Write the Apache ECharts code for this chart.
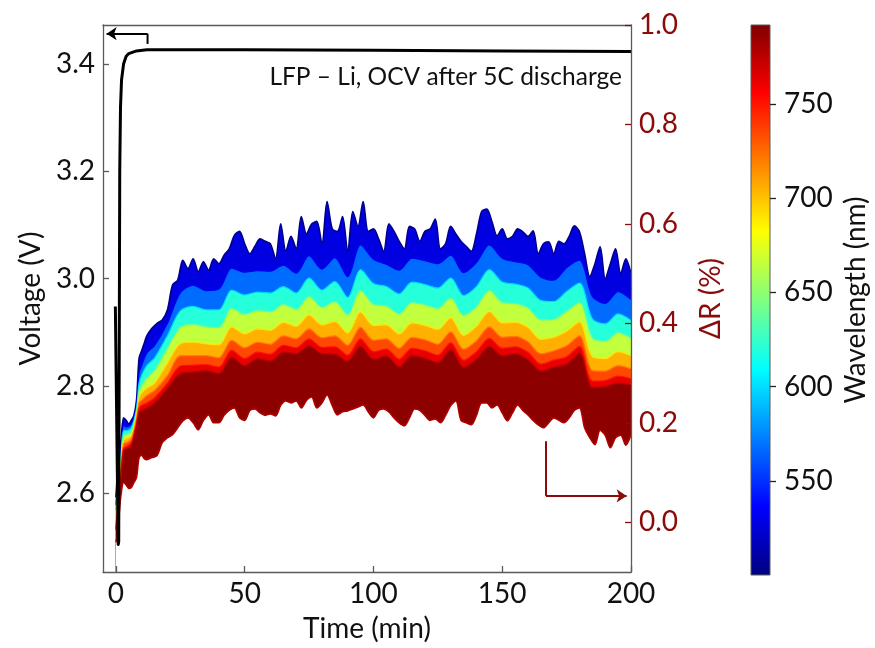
<!DOCTYPE html>
<html><head><meta charset="utf-8">
<script src="https://cdn.jsdelivr.net/npm/echarts@6/dist/echarts.min.js"></script>
<style>html,body{margin:0;padding:0;background:#fff}#c{width:875px;height:648px}</style>
</head><body><div id="c"></div>
<script>
// ---------------- DATA ----------------
const xTicks = [0, 50, 100, 150, 200];
const voltTicks = [2.6, 2.8, 3.0, 3.2, 3.4];
const dRTicks = [0, 0.2, 0.4, 0.6, 0.8, 1.0];
const wlTicks = [550, 600, 650, 700, 750];
const wlRange = [500, 792];

// OCV after 5C discharge (left axis)
const voltTime = [-0.2, 0.35, 0.9, 1.1, 1.3, 1.5, 1.8, 2.2, 3, 4, 5, 8, 12, 50, 100, 150, 200];
const voltage  = [2.948, 2.727, 2.505, 2.51, 2.85, 3.2, 3.32, 3.37, 3.40, 3.414, 3.419, 3.424, 3.426, 3.426, 3.425, 3.424, 3.423];

// fine time grid for the spectral envelopes
const timeFine = [0,0.5,1,1.5,2,3,4,5,6,7,8,9,10,11,12,
 14,16,18,20,22,24,26,28,30,32,34,36,38,40,
 42,44,46,48,50,52,54,56,58,60,62,64,66,68,70,72,74,76,78,80,
 82,84,86,88,90,92,94,96,98,100,102,104,106,108,110,112,114,116,118,120,
 122,124,126,128,130,132,134,136,138,140,142,144,146,148,150,152,154,156,158,160,
 162,164,166,168,170,172,174,176,178,180,182,184,186,188,190,192,194,196,198,200];
// top edge, 500 nm
const dR500 = [0.05,0.09,0.12,0.15,0.167,0.21,0.205,0.198,0.205,0.215,0.245,0.33,0.345,0.36,0.375,
 0.39,0.40,0.407,0.427,0.477,0.487,0.527,0.51,0.53,0.504,0.524,0.507,0.53,0.52,
 0.537,0.55,0.577,0.585,0.56,0.54,0.555,0.57,0.565,0.56,0.53,0.60,0.545,0.575,0.55,0.615,0.58,0.60,0.605,0.56,
 0.645,0.59,0.585,0.615,0.545,0.625,0.595,0.645,0.585,0.59,0.57,0.545,0.60,0.585,0.565,0.55,0.595,0.59,0.565,0.585,
 0.59,0.61,0.55,0.56,0.595,0.58,0.565,0.555,0.545,0.58,0.625,0.63,0.605,0.576,0.59,0.57,0.575,0.59,0.584,0.575,
 0.586,0.54,0.56,0.564,0.54,0.565,0.56,0.575,0.596,0.584,0.54,0.494,0.52,0.554,0.49,0.52,0.55,0.50,0.53,0.50];
// bottom edge, 792 nm
const dR792 = [-0.04,-0.03,0.0,0.03,0.056,0.08,0.075,0.068,0.07,0.08,0.09,0.13,0.135,0.128,0.126,
 0.13,0.134,0.16,0.17,0.176,0.19,0.204,0.21,0.2,0.186,0.205,0.216,0.2,0.2,
 0.215,0.225,0.23,0.21,0.205,0.225,0.228,0.22,0.215,0.218,0.214,0.235,0.244,0.24,0.244,0.23,0.245,0.252,0.23,0.24,
 0.256,0.235,0.216,0.222,0.224,0.228,0.232,0.236,0.222,0.21,0.225,0.228,0.222,0.21,0.2,0.194,0.21,0.228,0.225,0.215,
 0.205,0.208,0.2,0.215,0.235,0.244,0.205,0.2,0.196,0.215,0.24,0.24,0.23,0.236,0.22,0.204,0.22,0.236,0.225,0.216,
 0.205,0.196,0.19,0.2,0.21,0.205,0.2,0.21,0.225,0.23,0.19,0.17,0.156,0.185,0.175,0.15,0.17,0.175,0.155,0.176];

// coarse time grid for the interior wavelengths
const timeCoarse = [0,1,2,3,4,6,8,9,10,12,15,20,25,
 30,35,40,45,50,55,60,65,70,75,80,85,90,95,100,105,110,115,120,125,130,135,140,145,150,155,160,165,170,175,180,185,190,195,200];
const dR535 = [0.035,0.10,0.15,0.195,0.192,0.197,0.235,0.30,0.315,0.34,0.355,0.40,0.461,
 0.477,0.466,0.469,0.511,0.503,0.506,0.505,0.517,0.501,0.536,0.509,0.532,0.494,0.558,0.529,0.519,0.507,0.531,0.526,0.520,0.537,0.502,0.522,0.558,0.531,0.524,0.518,0.493,0.487,0.512,0.527,0.454,0.440,0.464,0.448];
const dR600 = [0.025,0.086,0.14,0.185,0.184,0.19,0.228,0.28,0.295,0.315,0.33,0.375,0.425,
 0.434,0.427,0.427,0.467,0.457,0.463,0.461,0.474,0.461,0.491,0.467,0.484,0.452,0.508,0.480,0.474,0.459,0.483,0.478,0.471,0.491,0.456,0.474,0.508,0.483,0.479,0.471,0.446,0.444,0.464,0.481,0.409,0.399,0.419,0.406];
const dR640 = [0.014,0.072,0.13,0.175,0.176,0.182,0.222,0.265,0.275,0.29,0.305,0.35,0.392,
 0.398,0.393,0.392,0.430,0.418,0.426,0.423,0.438,0.428,0.454,0.432,0.444,0.417,0.466,0.438,0.435,0.419,0.442,0.437,0.430,0.451,0.416,0.434,0.466,0.442,0.440,0.431,0.407,0.408,0.424,0.442,0.371,0.364,0.381,0.370];
const dR690 = [0.003,0.057,0.12,0.165,0.168,0.175,0.215,0.25,0.26,0.27,0.28,0.32,0.359,
 0.362,0.359,0.357,0.393,0.379,0.389,0.386,0.402,0.394,0.417,0.397,0.404,0.381,0.423,0.396,0.397,0.379,0.401,0.396,0.388,0.411,0.376,0.394,0.424,0.401,0.402,0.392,0.368,0.372,0.384,0.403,0.333,0.329,0.343,0.335];
const dR720 = [-0.004,0.047,0.11,0.158,0.16,0.168,0.208,0.24,0.245,0.255,0.265,0.295,0.335,
 0.335,0.335,0.331,0.366,0.351,0.362,0.358,0.375,0.369,0.389,0.371,0.375,0.356,0.392,0.366,0.369,0.350,0.372,0.367,0.358,0.383,0.348,0.365,0.393,0.372,0.374,0.363,0.339,0.345,0.355,0.375,0.305,0.304,0.315,0.309];
const dR750 = [-0.011,0.039,0.10,0.15,0.152,0.16,0.20,0.23,0.235,0.24,0.25,0.28,0.314,
 0.316,0.317,0.312,0.346,0.329,0.342,0.338,0.356,0.351,0.369,0.352,0.353,0.336,0.369,0.343,0.348,0.328,0.350,0.345,0.336,0.361,0.326,0.343,0.370,0.350,0.353,0.342,0.318,0.326,0.333,0.354,0.284,0.285,0.294,0.289];
const dR775 = [-0.015,0.034,0.095,0.145,0.147,0.155,0.195,0.222,0.225,0.23,0.24,0.27,0.299,
 0.302,0.305,0.299,0.332,0.315,0.329,0.324,0.342,0.339,0.355,0.339,0.338,0.324,0.354,0.328,0.334,0.313,0.335,0.330,0.321,0.347,0.312,0.328,0.354,0.335,0.339,0.327,0.304,0.312,0.318,0.340,0.271,0.273,0.280,0.276];

// annotation arrows
const arrowLeftT = [12.3, 12.3, -3.6];
const arrowLeftV = [3.437, 3.456, 3.456];
const arrowRightT = [167, 167, 198.3];
const arrowRightR = [0.163, 0.053, 0.053];

const noteText = 'LFP \u2013 Li, OCV after 5C discharge';

// ---------------- STYLE / BUILD ----------------
const FONT = 'Lato';
const DARKRED = '#8b0a0a';
const SPINE = '#5a5a5a';
const TXT = '#111';

function jet(f) {
  f = Math.max(0, Math.min(1, f));
  const c = x => Math.max(0, Math.min(1, x));
  const r = c(1.5 - Math.abs(4 * f - 3));
  const g = c(1.5 - Math.abs(4 * f - 2));
  const b = c(1.5 - Math.abs(4 * f - 1));
  return 'rgb(' + Math.round(r * 255) + ',' + Math.round(g * 255) + ',' + Math.round(b * 255) + ')';
}
const wlFrac = wl => (wl - wlRange[0]) / (wlRange[1] - wlRange[0]);

// wl: wavelength of the curve; fillWl: colour of the band just below it
const bands = [
  { wl: 500, fillWl: 528, t: timeFine, v: dR500 },
  { wl: 535, fillWl: 567, t: timeCoarse, v: dR535 },
  { wl: 600, fillWl: 620, t: timeCoarse, v: dR600 },
  { wl: 640, fillWl: 665, t: timeCoarse, v: dR640 },
  { wl: 690, fillWl: 705, t: timeCoarse, v: dR690 },
  { wl: 720, fillWl: 735, t: timeCoarse, v: dR720 },
  { wl: 750, fillWl: 762, t: timeCoarse, v: dR750 },
  { wl: 775, fillWl: 788, t: timeCoarse, v: dR775 },
  { wl: 792, fillWl: null, t: timeFine, v: dR792 }
];

const pairs = (a, b) => a.map((x, i) => [x, b[i]]);

const series = [];
bands.forEach((bd, i) => {
  const last = i === bands.length - 1;
  const fill = last ? '#ffffff' : jet(wlFrac(bd.fillWl));
  series.push({
    type: 'line', xAxisIndex: 0, yAxisIndex: 1,
    data: pairs(bd.t, bd.v),
    showSymbol: false, symbol: 'none', silent: true, z: 2, smooth: 0.3,
    lineStyle: { color: last ? '#b00000' : (i === 0 ? '#00008a' : jet(wlFrac(bd.wl))), width: (i === 0 || last) ? 1.6 : 1.2 },
    areaStyle: { color: fill, opacity: 1, origin: 'start' },
    animation: false
  });
});

series.push({
  type: 'line', xAxisIndex: 0, yAxisIndex: 0, data: pairs(voltTime, voltage),
  showSymbol: false, symbol: 'none', silent: true, z: 6,
  lineStyle: { color: '#000', width: 3, join: 'round' }, animation: false
});

series.push({
  type: 'line', xAxisIndex: 0, yAxisIndex: 0, data: pairs(arrowLeftT.slice(0, 2), arrowLeftV.slice(0, 2)),
  showSymbol: false, symbol: 'none', silent: true, z: 6,
  lineStyle: { color: '#000', width: 2 }, animation: false,
  markLine: {
    silent: true, animation: false, symbol: ['none', 'arrow'], symbolSize: 10,
    label: { show: false }, lineStyle: { color: '#000', width: 2, type: 'solid' },
    data: [[{ coord: [arrowLeftT[1], arrowLeftV[1]] }, { coord: [arrowLeftT[2], arrowLeftV[2]] }]]
  }
});
series.push({
  type: 'line', xAxisIndex: 0, yAxisIndex: 1, data: pairs(arrowRightT.slice(0, 2), arrowRightR.slice(0, 2)),
  showSymbol: false, symbol: 'none', silent: true, z: 6,
  lineStyle: { color: DARKRED, width: 2 }, animation: false,
  markLine: {
    silent: true, animation: false, symbol: ['none', 'arrow'], symbolSize: 10,
    label: { show: false }, lineStyle: { color: DARKRED, width: 2, type: 'solid' },
    data: [[{ coord: [arrowRightT[1], arrowRightR[1]] }, { coord: [arrowRightT[2], arrowRightR[2]] }]]
  }
});

// colour bar through its own axis
const cbStops = [];
for (let k = 0; k <= 40; k++) cbStops.push({ offset: k / 40, color: jet(k / 40) });
series.push({
  type: 'custom', xAxisIndex: 2, yAxisIndex: 2, silent: true, animation: false,
  data: [[0, wlRange[0], wlRange[1]]],
  renderItem: function (params, api) {
    const p0 = api.coord([api.value(0), api.value(1)]);
    const p1 = api.coord([api.value(0), api.value(2)]);
    const cs = params.coordSys;
    return {
      type: 'rect',
      shape: { x: cs.x, y: p1[1], width: cs.width, height: p0[1] - p1[1] },
      style: { fill: new echarts.graphic.LinearGradient(0, 1, 0, 0, cbStops), stroke: SPINE, lineWidth: 1 }
    };
  }
});

const lbl = (extra) => Object.assign({ fontFamily: FONT, fontSize: 28, color: TXT }, extra || {});

const option = {
  backgroundColor: '#fff',
  animation: false,
  textStyle: { fontFamily: FONT },
  grid: [
    { left: 103, top: 25, width: 528, height: 550 },
    { left: 751, top: 25, width: 19, height: 550 }
  ],
  xAxis: [
    {
      gridIndex: 0, type: 'value', min: -5, max: 200, position: 'bottom', z: 10,
      axisLine: { onZero: false, lineStyle: { color: SPINE, width: 1.3 } },
      axisTick: { inside: true, length: 6, customValues: xTicks, lineStyle: { color: SPINE, width: 1.3 } },
      axisLabel: lbl({ customValues: xTicks, margin: 8 }),
      splitLine: { show: false },
      name: 'Time (min)', nameLocation: 'middle', nameGap: 43, nameTextStyle: lbl()
    },
    {
      gridIndex: 0, type: 'value', min: -5, max: 200, position: 'top', z: 10,
      axisLine: { onZero: false, lineStyle: { color: SPINE, width: 1.3 } },
      axisTick: { show: false }, axisLabel: { show: false }, splitLine: { show: false }
    },
    { gridIndex: 1, type: 'category', data: ['cb'], show: false }
  ],
  yAxis: [
    {
      gridIndex: 0, type: 'value', min: 2.4537, max: 3.4722, position: 'left', z: 10,
      axisLine: { show: true, onZero: false, lineStyle: { color: SPINE, width: 1.3 } },
      axisTick: { show: true, inside: true, length: 6, customValues: voltTicks, lineStyle: { color: SPINE, width: 1.3 } },
      axisLabel: lbl({ customValues: voltTicks, margin: 8, formatter: v => v.toFixed(1) }),
      splitLine: { show: false },
      name: 'Voltage (V)', nameLocation: 'middle', nameRotate: 90, nameGap: 54, nameTextStyle: lbl()
    },
    {
      gridIndex: 0, type: 'value', min: -0.1, max: 1.0, position: 'right', z: 10,
      axisLine: { show: true, onZero: false, lineStyle: { color: SPINE, width: 1.3 } },
      axisTick: { show: true, inside: true, length: 6, customValues: dRTicks, lineStyle: { color: DARKRED, width: 1.3 } },
      axisLabel: lbl({ customValues: dRTicks, margin: 8, color: DARKRED, formatter: v => v.toFixed(1) }),
      splitLine: { show: false },
      name: '\u0394R (%)', nameLocation: 'middle', nameRotate: 90, nameGap: 66, nameTextStyle: lbl({ color: DARKRED })
    },
    {
      gridIndex: 1, type: 'value', min: wlRange[0], max: wlRange[1], position: 'right', z: 10,
      axisLine: { show: false, onZero: false },
      axisTick: { show: true, inside: false, length: 6, customValues: wlTicks, lineStyle: { color: '#222', width: 1.3 } },
      axisLabel: lbl({ customValues: wlTicks, margin: 14 }),
      splitLine: { show: false },
      name: 'Wavelength (nm)', nameLocation: 'middle', nameRotate: 90, nameGap: 72, nameTextStyle: lbl()
    }
  ],
  graphic: [
    { type: 'text', right: 253, top: 65, z: 20, silent: true,
      style: { text: noteText, font: '24.5px ' + FONT, fill: TXT } }
  ],
  series: series
};

const chart = echarts.init(document.getElementById('c'), null, { renderer: 'canvas' });
chart.setOption(option);
</script>
</body></html>
